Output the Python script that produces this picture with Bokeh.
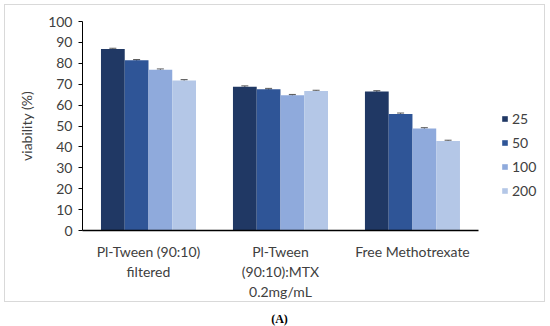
from bokeh.plotting import figure
from bokeh.models import ColumnDataSource, Range1d, Legend, LegendItem, Whisker, Div, SingleIntervalTicker, FixedTicker
from bokeh.layouts import column
from bokeh.embed import file_html
from bokeh.resources import INLINE

categories = ["Pl-Tween (90:10)\nfiltered", "Pl-Tween\n(90:10):MTX\n0.2mg/mL", "Free Methotrexate"]
series_names = ["25", "50", "100", "200"]
v25 = [86.8, 68.8, 66.5]
v50 = [81.4, 67.6, 55.8]
v100 = [76.9, 64.7, 48.8]
v200 = [71.8, 66.7, 42.8]
err = [0.4, 0.4, 0.4]
colors = ["#203864", "#2F5597", "#8FAADC", "#B4C7E7"]

FONT = "Lato"
FS = "14px"
n = len(categories)
p = figure(x_range=Range1d(0, 3.508), y_range=Range1d(0, 100),
           width=541, height=298, output_backend="svg", toolbar_location=None,
           min_border_left=77, min_border_right=1, min_border_top=16, min_border_bottom=68)
p.styles = {"border": "1px solid #d9d9d9", "box-sizing": "border-box"}
p.outline_line_color = None
p.xgrid.grid_line_color = None
p.ygrid.grid_line_color = None

centers = [i + 0.5 for i in range(n)]
offsets = [-0.27, -0.09, 0.09, 0.27]
vals = [v25, v50, v100, v200]
items = []
for name, vv, off, col in zip(series_names, vals, offsets, colors):
    src = ColumnDataSource(dict(x=[c + off for c in centers], top=vv,
                                upper=[a + e for a, e in zip(vv, err)],
                                lower=[a - e for a, e in zip(vv, err)]))
    r = p.vbar(x="x", top="top", width=0.18, source=src, fill_color=col, line_color=None)
    w = Whisker(source=src, base="x", upper="upper", lower="lower",
                line_color="#595959", line_width=1)
    w.upper_head.size = 7
    w.lower_head.size = 7
    w.upper_head.line_color = "#595959"
    w.lower_head.line_color = "#595959"
    p.add_layout(w)
    items.append(LegendItem(label=name, renderers=[r]))

legend = Legend(items=items, location=(419, 31), glyph_width=7, glyph_height=7,
                label_height=16, spacing=7, label_standoff=4, padding=0, margin=0,
                border_line_color=None, background_fill_alpha=0,
                label_text_font=FONT, label_text_font_size=FS, label_text_color="#404040")
p.add_layout(legend, "center")

p.yaxis.ticker = SingleIntervalTicker(interval=10)
p.yaxis.minor_tick_line_color = None
p.yaxis.major_tick_in = 0
p.yaxis.major_tick_out = 4
p.yaxis.axis_line_color = "black"
p.yaxis.major_tick_line_color = "black"
p.yaxis.axis_label = "viability (%)"
p.yaxis.axis_label_text_font = FONT
p.yaxis.axis_label_text_font_style = "normal"
p.yaxis.axis_label_text_font_size = FS
p.yaxis.axis_label_text_color = "#404040"
p.yaxis.axis_label_standoff = 10
p.yaxis.major_label_text_font = FONT
p.yaxis.major_label_text_font_size = FS
p.yaxis.major_label_text_color = "#404040"
p.yaxis.major_label_standoff = 6

p.xaxis.ticker = FixedTicker(ticks=centers)
p.xaxis.major_label_overrides = {c: lab for c, lab in zip(centers, categories)}
p.xaxis.bounds = (0, n)
p.xaxis.major_tick_line_color = None
p.xaxis.minor_tick_line_color = None
p.xaxis.axis_line_color = "black"
p.xaxis.axis_line_width = 1.5
p.xaxis.major_label_text_font = FONT
p.xaxis.major_label_text_font_size = FS
p.xaxis.major_label_text_color = "#404040"
p.xaxis.major_label_standoff = 6

cap = Div(text="(A)", width=541, height=18,
          styles={"text-align": "center", "font-family": "Liberation Serif", "font-weight": "bold",
                  "font-size": "12px", "color": "black"})
layout = column(p, cap, spacing=4, margin=(4, 0, 0, 4))
open("out.html", "w").write(file_html(layout, INLINE))
